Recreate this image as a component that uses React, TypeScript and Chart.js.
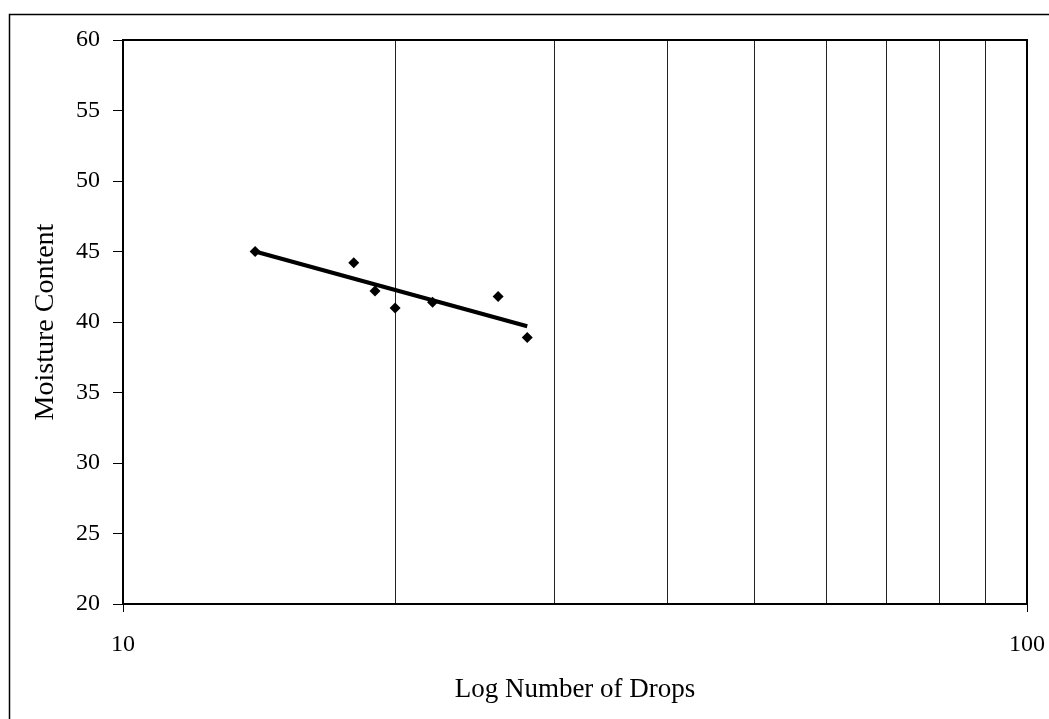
import React, { useEffect, useRef } from "react";
import { Chart, registerables } from "chart.js";

Chart.register(...registerables);

const drops = [14, 18, 19, 20, 22, 26, 28];
const moisture = [45.0, 44.2, 42.2, 41.0, 41.4, 41.8, 38.9];
const trendX = [14, 28];
const trendY = [45.0, 39.7];
const xTicks = [10, 20, 30, 40, 50, 60, 70, 80, 90, 100];
const xLabeled = [10, 100];

const FONT = "'Liberation Serif', 'DejaVu Serif', serif";

const framePlugin = {
  id: "frame",
  beforeDraw(chart: any) {
    const ctx = chart.ctx;
    ctx.save();
    ctx.fillStyle = "#fff";
    ctx.fillRect(0, 0, chart.width, chart.height);
    ctx.strokeStyle = "#000";
    ctx.lineWidth = 1.5;
    ctx.strokeRect(9.5, 14.5, 1100, 800);
    ctx.restore();
  },
  afterDraw(chart: any) {
    const { left, top, right, bottom } = chart.chartArea;
    const ctx = chart.ctx;
    ctx.save();
    ctx.strokeStyle = "#000";
    ctx.lineWidth = 2;
    ctx.strokeRect(left, top, right - left, bottom - top);
    ctx.restore();
  },
};

export default function App() {
  const ref = useRef<HTMLCanvasElement>(null);
  useEffect(() => {
    if (!ref.current) return;
    const chart = new Chart(ref.current, {
      type: "scatter",
      data: {
        datasets: [
          {
            label: "Moisture",
            data: drops.map((x, i) => ({ x, y: moisture[i] })),
            pointStyle: "rectRot",
            pointRadius: 5.5,
            backgroundColor: "#000",
            borderColor: "#000",
            borderWidth: 0,
            showLine: false,
            order: 0,
          },
          {
            label: "Trend",
            data: trendX.map((x, i) => ({ x, y: trendY[i] })),
            showLine: true,
            borderColor: "#000",
            borderWidth: 4,
            pointRadius: 0,
            order: 1,
          },
        ],
      },
      options: {
        animation: false,
        responsive: false,
        events: [],
        layout: { padding: { left: 0, top: 40, right: 22, bottom: 0 } },
        plugins: { legend: { display: false }, tooltip: { enabled: false } },
        scales: {
          x: {
            type: "logarithmic",
            min: 10,
            max: 100,
            afterBuildTicks: (scale: any) => {
              scale.ticks = xTicks.map((v) => ({ value: v }));
            },
            afterFit: (scale: any) => {
              scale.height = 115;
              scale.paddingLeft = 0;
              scale.paddingRight = 0;
            },
            border: { display: false },
            grid: {
              color: "#222",
              lineWidth: 1,
              tickLength: 8,
              tickColor: (ctx: any) =>
                ctx.tick && xLabeled.includes(ctx.tick.value) ? "#000" : "rgba(0,0,0,0)",
            },
            ticks: {
              autoSkip: false,
              maxRotation: 0,
              padding: 18,
              color: "#000",
              font: { family: FONT, size: 24 },
              callback: (v: any) => (xLabeled.includes(Number(v)) ? String(v) : ""),
            },
            title: {
              display: true,
              text: "Log Number of Drops",
              color: "#000",
              font: { family: FONT, size: 27 },
              padding: { top: 0, bottom: 13 },
            },
          },
          y: {
            min: 20,
            max: 60,
            afterFit: (scale: any) => {
              scale.width = 123;
            },
            border: { display: false },
            grid: {
              drawOnChartArea: false,
              tickLength: 10,
              tickColor: "#000",
              lineWidth: 1,
            },
            ticks: {
              stepSize: 5,
              padding: 13,
              color: "#000",
              font: { family: FONT, size: 24 },
            },
            title: {
              display: true,
              text: "Moisture Content",
              color: "#000",
              font: { family: FONT, size: 28 },
              padding: { top: 29, bottom: 0 },
            },
          },
        },
      },
      plugins: [framePlugin],
    });
    return () => chart.destroy();
  }, []);
  return (
    <canvas
      ref={ref}
      width={1049}
      height={719}
      style={{ position: "fixed", left: 0, top: 0, width: 1049, height: 719 }}
    />
  );
}
